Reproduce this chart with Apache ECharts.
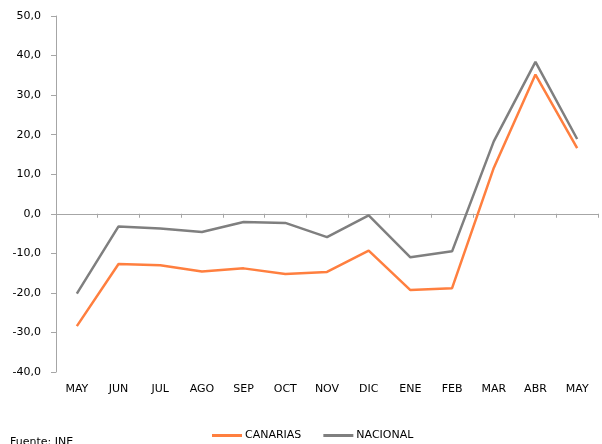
<!DOCTYPE html>
<html>
<head>
<meta charset="utf-8">
<script src="https://cdn.jsdelivr.net/npm/echarts@6/dist/echarts.min.js"></script>
<style>
  html, body { margin: 0; padding: 0; background: #fff; }
  #chart { width: 602px; height: 444px; }
</style>
</head>
<body>
<div id="chart"></div>
<script>
// meses (mayo a mayo)
const months = ['MAY', 'JUN', 'JUL', 'AGO', 'SEP', 'OCT', 'NOV', 'DIC', 'ENE', 'FEB', 'MAR', 'ABR', 'MAY']
const canarias = [-28.4, -12.7, -13.0, -14.6, -13.8, -15.2, -14.7, -9.3, -19.3, -18.8, 11.6, 35.2, 16.6]
const nacional = [-20.2, -3.2, -3.7, -4.6, -2.1, -2.3, -5.9, -0.4, -11.0, -9.5, 18.3, 38.4, 18.9]

const FONT = 'DejaVu Sans'
const AXIS_COLOR = '#a6a6a6'

const chart = echarts.init(document.getElementById('chart'))

chart.setOption({
  animation: false,
  textStyle: { fontFamily: FONT },
  grid: { left: 56, right: 4, top: 16, bottom: 72 },
  legend: {
    top: 425,
    left: 207,
    itemWidth: 30,
    itemHeight: 3,
    itemGap: 22,
    icon: 'rect',
    textStyle: { fontFamily: FONT, fontSize: 11, color: '#000', padding: [0, 0, 0, -2] },
    data: ['CANARIAS', 'NACIONAL']
  },
  graphic: [{
    type: 'text',
    left: 10,
    top: 437,
    style: { text: 'Fuente: INE', font: '11px "DejaVu Sans"', fill: '#000' }
  }],
  xAxis: [
    {
      // solo etiquetas abajo
      type: 'category',
      data: months,
      position: 'bottom',
      axisLine: { show: false, onZero: false },
      axisTick: { show: false },
      axisLabel: { fontSize: 11, color: '#000', margin: 12 }
    },
    {
      // línea del eje en el cero
      type: 'category',
      data: months,
      position: 'bottom',
      axisLine: { onZero: true, onZeroAxisIndex: 0, lineStyle: { color: AXIS_COLOR, width: 1 } },
      axisTick: { show: true, length: 4, lineStyle: { color: AXIS_COLOR } },
      axisLabel: { show: false }
    }
  ],
  yAxis: {
    type: 'value',
    min: -40,
    max: 50,
    interval: 10,
    splitLine: { show: false },
    axisLine: { show: true, lineStyle: { color: AXIS_COLOR, width: 1 } },
    axisTick: { show: true, length: 5, lineStyle: { color: AXIS_COLOR } },
    axisLabel: {
      fontSize: 11,
      color: '#000',
      margin: 15,
      formatter: (v) => v.toFixed(1).replace('.', ',')
    }
  },
  series: [
    {
      name: 'CANARIAS',
      type: 'line',
      data: canarias,
      symbol: 'none',
      lineStyle: { color: '#ff7f3f', width: 2.5 },
      itemStyle: { color: '#ff7f3f' }
    },
    {
      name: 'NACIONAL',
      type: 'line',
      data: nacional,
      symbol: 'none',
      lineStyle: { color: '#7f7f7f', width: 2.5 },
      itemStyle: { color: '#7f7f7f' }
    }
  ]
})
</script>
</body>
</html>
